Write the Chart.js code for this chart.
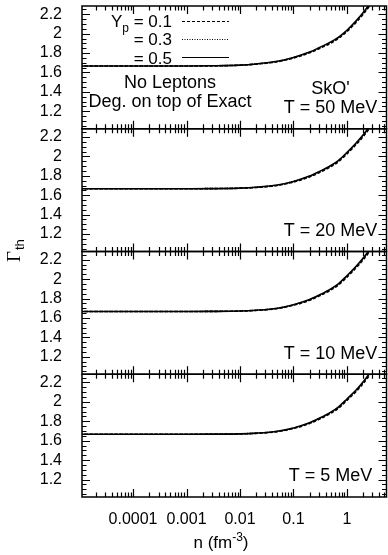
<!DOCTYPE html>
<html>
<head>
<meta charset="utf-8">
<script src="https://cdn.jsdelivr.net/npm/chart.js@4"></script>
<style>
    body { margin: 0; background: #fff; }
    #wrap { width: 388px; height: 555px; }
</style>
</head>
<body>
<div id="wrap"><canvas id="myChart" width="388" height="555"></canvas></div>
<script>
// density grid, fm^-3
const density = [1e-5, 1e-4, 1e-3, 0.003, 0.01, 0.02, 0.05, 0.1, 0.2, 0.3, 0.5, 0.7, 1, 1.5, 2, 3, 5];

// Gamma_th, one array per temperature and Yp
const gT50_01 = [1.667, 1.667, 1.667, 1.668, 1.675, 1.686, 1.711, 1.749, 1.802, 1.845, 1.903, 1.952, 2.021, 2.119, 2.198, 2.326, 2.518];
const gT50_03 = [1.667, 1.667, 1.667, 1.669, 1.675, 1.687, 1.713, 1.752, 1.806, 1.850, 1.909, 1.959, 2.028, 2.127, 2.207, 2.336, 2.530];
const gT50_05 = [1.667, 1.667, 1.667, 1.669, 1.676, 1.688, 1.715, 1.755, 1.810, 1.855, 1.915, 1.965, 2.035, 2.135, 2.215, 2.345, 2.540];

const gT20_01 = [1.667, 1.667, 1.667, 1.668, 1.672, 1.680, 1.701, 1.736, 1.789, 1.832, 1.894, 1.947, 2.026, 2.124, 2.203, 2.331, 2.528];
const gT20_03 = [1.667, 1.667, 1.667, 1.668, 1.673, 1.681, 1.703, 1.739, 1.793, 1.837, 1.900, 1.954, 2.033, 2.132, 2.212, 2.341, 2.540];
const gT20_05 = [1.667, 1.667, 1.667, 1.668, 1.673, 1.682, 1.705, 1.742, 1.797, 1.842, 1.906, 1.960, 2.040, 2.140, 2.220, 2.350, 2.550];

const gT10_01 = [1.667, 1.667, 1.667, 1.668, 1.671, 1.678, 1.697, 1.731, 1.782, 1.825, 1.888, 1.942, 2.021, 2.119, 2.198, 2.326, 2.523];
const gT10_03 = [1.667, 1.667, 1.667, 1.668, 1.672, 1.679, 1.699, 1.734, 1.786, 1.830, 1.894, 1.948, 2.028, 2.127, 2.207, 2.336, 2.535];
const gT10_05 = [1.667, 1.667, 1.667, 1.668, 1.672, 1.680, 1.701, 1.737, 1.790, 1.835, 1.900, 1.955, 2.035, 2.135, 2.215, 2.345, 2.545];

const gT5_01 = [1.667, 1.667, 1.667, 1.667, 1.670, 1.676, 1.694, 1.726, 1.777, 1.820, 1.883, 1.936, 2.016, 2.109, 2.188, 2.316, 2.508];
const gT5_03 = [1.667, 1.667, 1.667, 1.668, 1.671, 1.677, 1.696, 1.729, 1.781, 1.825, 1.889, 1.943, 2.023, 2.117, 2.197, 2.326, 2.520];
const gT5_05 = [1.667, 1.667, 1.667, 1.668, 1.671, 1.678, 1.698, 1.732, 1.785, 1.830, 1.895, 1.950, 2.030, 2.125, 2.205, 2.335, 2.530];

const temps = ['50', '20', '10', '5'];
const ypLabels = ['0.1', '0.3', '0.5'];
const xTickValues = [0.0001, 0.001, 0.01, 0.1, 1];
const xTickLabels = ['0.0001', '0.001', '0.01', '0.1', '1'];
const yTickValues = [1.2, 1.4, 1.6, 1.8, 2, 2.2];
const yTickLabels = ['1.2', '1.4', '1.6', '1.8', '2', '2.2'];

// top to bottom
const panels = [
    { id: 'y50', series: [gT50_01, gT50_03, gT50_05] },
    { id: 'y20', series: [gT20_01, gT20_03, gT20_05] },
    { id: 'y10', series: [gT10_01, gT10_03, gT10_05] },
    { id: 'y5', series: [gT5_01, gT5_03, gT5_05] }
];

const FONT = "'Liberation Sans', Arial, sans-serif";
const dashes = [[3, 2], [1, 1.5], []];
const X_MIN = 1.11e-5, X_MAX = 5.5;
const Y_MIN = 1.02, Y_MAX = 2.285;

const datasets = [];
panels.forEach(function (p) {
    p.series.forEach(function (s, k) {
        datasets.push({
            label: 'Yp = ' + ypLabels[k],
            data: density.map(function (n, i) { return { x: n, y: s[i] }; }),
            yAxisID: p.id,
            borderColor: '#000',
            borderWidth: 1.6,
            borderDash: dashes[k],
            pointRadius: 0,
            cubicInterpolationMode: 'monotone',
            fill: false
        });
    });
});

const scales = {
    x: {
        type: 'logarithmic',
        min: X_MIN,
        max: X_MAX,
        grid: { display: false },
        border: { display: false },
        afterBuildTicks: function (scale) {
            scale.ticks = xTickValues.map(function (v) { return { value: v }; });
        },
        afterFit: function (scale) {
            scale.height = 58;
            scale.paddingLeft = 0;
            scale.paddingRight = 0;
        },
        ticks: {
            autoSkip: false,
            maxRotation: 0,
            padding: 5,
            color: '#000',
            font: { family: FONT, size: 16 },
            callback: function (v) {
                const i = xTickValues.indexOf(v);
                return i >= 0 ? xTickLabels[i] : '';
            }
        }
    }
};
// stacked axes are laid out bottom first, so add them in reverse
panels.slice().reverse().forEach(function (p) {
    scales[p.id] = {
        type: 'linear',
        position: 'left',
        stack: 'panels',
        stackWeight: 1,
        min: Y_MIN,
        max: Y_MAX,
        grid: { display: false },
        border: { display: false },
        afterBuildTicks: function (scale) {
            scale.ticks = yTickValues.map(function (v) { return { value: v }; });
        },
        afterFit: function (scale) {
            scale.width = 82;
            scale.paddingTop = 0;
            scale.paddingBottom = 0;
        },
        ticks: {
            autoSkip: false,
            padding: 12,
            color: '#000',
            font: { family: FONT, size: 16 },
            callback: function (v) {
                const i = yTickValues.indexOf(v);
                return i >= 0 ? yTickLabels[i] : '';
            }
        }
    };
});

// minor/major tick positions for the log axis
const xTickMarks = [];
for (let d = -5; d <= 0; d++) {
    for (let k = 1; k <= 9; k++) {
        const v = k * Math.pow(10, d);
        if (v >= X_MIN && v <= X_MAX) xTickMarks.push({ v: v, major: k === 1 });
    }
}

const framePlugin = {
    id: 'frames',
    // keep each panel's curves inside its own box
    beforeDatasetDraw: function (chart, args) {
        const ys = args.meta.yScale;
        const a = chart.chartArea;
        chart.ctx.save();
        chart.ctx.beginPath();
        chart.ctx.rect(a.left, ys.top, a.right - a.left, ys.bottom - ys.top);
        chart.ctx.clip();
    },
    afterDatasetDraw: function (chart) {
        chart.ctx.restore();
    },
    afterDraw: function (chart) {
        const ctx = chart.ctx;
        const a = chart.chartArea;
        const xs = chart.scales.x;
        ctx.save();
        ctx.fillStyle = '#000';
        ctx.strokeStyle = '#000';
        ctx.setLineDash([]);

        panels.forEach(function (p, pi) {
            const s = chart.scales[p.id];
            ctx.lineWidth = 1.2;
            ctx.beginPath();
            xTickMarks.forEach(function (t) {
                const px = Math.round(xs.getPixelForValue(t.v)) + 0.5;
                const len = t.major ? 8 : 4.5;
                ctx.moveTo(px, s.top);
                ctx.lineTo(px, s.top + len);
                ctx.moveTo(px, s.bottom);
                ctx.lineTo(px, s.bottom - len);
            });
            for (let i = 21; i <= 45; i++) {
                const py = Math.round(s.getPixelForValue(i * 0.05)) + 0.5;
                const len = (i % 4 === 0) ? 8 : 4.5;
                ctx.moveTo(a.left, py);
                ctx.lineTo(a.left + len, py);
                ctx.moveTo(a.right, py);
                ctx.lineTo(a.right - len, py);
            }
            ctx.stroke();
            ctx.lineWidth = 1.5;
            ctx.strokeRect(a.left, s.top, a.right - a.left, s.bottom - s.top);

            ctx.font = '18px ' + FONT;
            ctx.textAlign = 'center';
            ctx.textBaseline = 'alphabetic';
            ctx.fillText('T = ' + temps[pi] + ' MeV', a.right - 56, s.top + 107);
        });

        // top panel annotations and legend
        const t0 = chart.scales[panels[0].id].top;
        ctx.font = '18px ' + FONT;
        ctx.textAlign = 'center';
        ctx.fillText('No Leptons', 170, t0 + 82);
        ctx.fillText('Deg. on top of Exact', 170, t0 + 100.5);
        ctx.fillText("SkO'", a.right - 56, t0 + 87.5);

        const rowBase = [20.7, 39, 58];
        const rowLine = [15.5, 33.5, 51.5];
        ypLabels.forEach(function (lab, k) {
            ctx.font = '17px ' + FONT;
            ctx.textAlign = 'right';
            const txt = (k === 0 ? ' = ' : '= ') + lab;
            ctx.fillText(txt, 172, t0 + rowBase[k]);
            if (k === 0) {
                const w = ctx.measureText(txt).width;
                ctx.font = '12px ' + FONT;
                const wp = ctx.measureText('p').width;
                ctx.fillText('p', 172 - w, t0 + rowBase[k] + 5);
                ctx.font = '17px ' + FONT;
                ctx.fillText('Y', 172 - w - wp, t0 + rowBase[k]);
            }
            ctx.lineWidth = 1;
            ctx.setLineDash(dashes[k]);
            ctx.beginPath();
            ctx.moveTo(182, t0 + rowLine[k]);
            ctx.lineTo(229, t0 + rowLine[k]);
            ctx.stroke();
        });
        ctx.setLineDash([]);

        // x axis title: n (fm^-3)
        ctx.textAlign = 'left';
        ctx.font = '17px ' + FONT;
        const p1 = 'n (fm', p3 = ')';
        const w1 = ctx.measureText(p1).width;
        const w3 = ctx.measureText(p3).width;
        ctx.font = '12px ' + FONT;
        const w2 = ctx.measureText('-3').width;
        const x0 = 221 - (w1 + w2 + w3) / 2;
        ctx.font = '17px ' + FONT;
        ctx.fillText(p1, x0, 548);
        ctx.font = '12px ' + FONT;
        ctx.fillText('-3', x0 + w1, 541);
        ctx.font = '17px ' + FONT;
        ctx.fillText(p3, x0 + w1 + w2, 548);

        // y axis title: Gamma_th
        ctx.translate(20, 262);
        ctx.rotate(-Math.PI / 2);
        ctx.font = "19px 'Liberation Serif', 'DejaVu Serif', serif";
        ctx.fillText('\u0393', 0, 0);
        const wg = ctx.measureText('\u0393').width;
        ctx.font = '13px ' + FONT;
        ctx.fillText('th', wg + 1, 4);
        ctx.restore();
    }
};

const config = {
    type: 'line',
    data: { datasets: datasets },
    options: {
        responsive: false,
        animation: false,
        devicePixelRatio: 1,
        layout: { padding: { top: 6, right: 1.5, bottom: 0, left: 0 } },
        plugins: {
            legend: { display: false },
            tooltip: { enabled: false }
        },
        scales: scales
    },
    plugins: [framePlugin]
};

const myChart = new Chart(document.getElementById('myChart'), config);
</script>
</body>
</html>
